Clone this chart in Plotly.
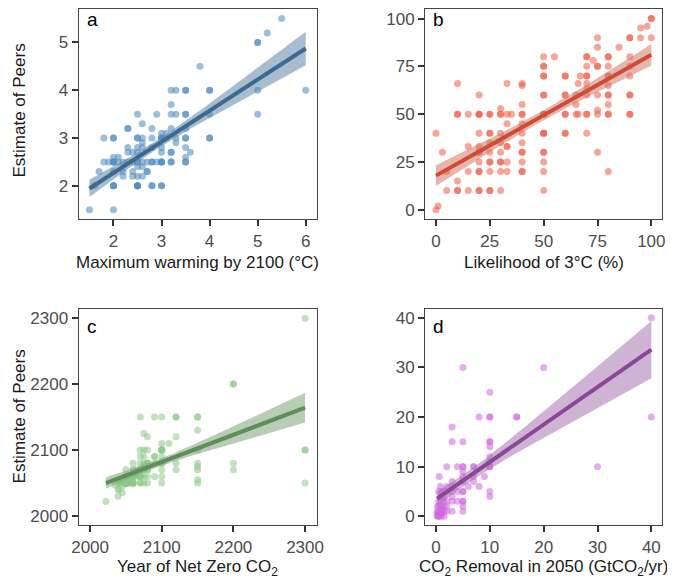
import numpy as np
import plotly.graph_objects as go

# each panel: (respondent's own answer, estimate of peers)
warming_pts = [
    (1.5, 1.5), (2, 1.5), (1.6, 2), (1.7, 2.3),
    (1.8, 2.5), (1.9, 2.5), (2, 2.5), (2, 2.5), (2, 2.5), (2.1, 2.5), (2.2, 2.5), (2.3, 2.5),
    (2.4, 2.5), (2.5, 2.5), (2.5, 2.5), (2.6, 2.5), (2.7, 2.5), (2.8, 2.5), (2.8, 2.5),
    (2.9, 2.5), (3, 2.5), (3.2, 2.5), (3.2, 2.5), (3.5, 2.5), (3.5, 2.5), (3, 2.5), (3, 2.5),
    (2, 2), (2, 2), (2, 2), (2.5, 2), (2.5, 2), (2.5, 2), (2.5, 2), (2.8, 2), (2.8, 2), (3, 2), (3, 2),
    (2, 2.3), (2.2, 2.3), (2.4, 2.3), (2.7, 2.3), (2.7, 2.3), (2, 2.6), (2.1, 2.6),
    (2.5, 2.4), (2.6, 2.4), (2.2, 2.2), (2.4, 2.2), (2.5, 2.2), (2.6, 2.2),
    (2.3, 2.7), (2.4, 2.7), (2.5, 2.7), (3, 2.7), (3.2, 2.7), (3.2, 2.7), (3.6, 2.7), (3.5, 2.6),
    (2.3, 2.8), (2.5, 2.8), (2.6, 2.8), (2.8, 2.8), (3, 2.8), (3.5, 2.8), (3.3, 2.9), (2.6, 2.9),
    (1.8, 3), (2, 3), (2, 3), (2.5, 3), (2.5, 3), (2.6, 3), (2.8, 3), (3, 3), (3, 3), (3, 3),
    (3.1, 3), (3.3, 3), (3.5, 3), (3.5, 3), (4, 3), (4, 3),
    (3, 3.1), (3.1, 3.1), (2.3, 3.2), (2.3, 3.2), (2.8, 3.2), (3.2, 3.2), (3.5, 3.2), (2.6, 3.3),
    (2.5, 3.5), (2.9, 3.5), (3.2, 3.5), (3.3, 3.5), (3.5, 3.5), (3.5, 3.5), (4, 3.5), (5, 3.5), (3.2, 3.7),
    (3.2, 4), (3.3, 4), (3.5, 4), (3.5, 4), (4, 4), (4, 4), (5, 4), (6, 4), (3.8, 4.5),
    (5, 5), (5, 5), (5.2, 5.2), (5.5, 5.5),
]

likelihood_pts = [
    (0, 40), (0, 0), (1, 2), (3, 30), (5, 20), (5, 10),
    (10, 66), (10, 50), (10, 50), (10, 15), (10, 10), (10, 10),
    (15, 50), (15, 33), (15, 20), (15, 10),
    (20, 60), (20, 50), (20, 50), (20, 50), (20, 40), (20, 33), (20, 30), (20, 30), (20, 25),
    (20, 20), (20, 20), (20, 10), (20, 10),
    (25, 50), (25, 50), (25, 40), (25, 40), (25, 35), (25, 30), (25, 25), (25, 25), (25, 20),
    (25, 10), (25, 10),
    (30, 53), (30, 50), (30, 50), (30, 40), (30, 35), (30, 30), (30, 25), (30, 25), (30, 20), (30, 10),
    (33, 66), (33, 50), (35, 50), (33, 45), (33, 33), (33, 33), (33, 25), (33, 20),
    (40, 66), (40, 65), (40, 55), (40, 50), (40, 50), (40, 45), (40, 40), (40, 35), (40, 30),
    (40, 30), (40, 25), (40, 20), (40, 20),
    (50, 80), (55, 80), (50, 75), (50, 75), (50, 70), (50, 70), (50, 60), (50, 60), (50, 50),
    (50, 50), (50, 50), (50, 40), (50, 40), (50, 40), (50, 30), (50, 30), (50, 25), (50, 20), (50, 10),
    (60, 70), (60, 70), (60, 60), (60, 60), (60, 50), (60, 50), (60, 40), (60, 40),
    (65, 55), (65, 60), (65, 50), (66, 50), (66, 66), (67, 70),
    (70, 80), (70, 80), (70, 75), (70, 70), (70, 70), (70, 66), (70, 63), (70, 60), (70, 50),
    (70, 50), (70, 40), (73, 78),
    (75, 75), (75, 75), (75, 90), (75, 85), (75, 60), (75, 52), (75, 50), (75, 30),
    (80, 80), (80, 80), (80, 75), (80, 70), (80, 70), (80, 65), (80, 60), (80, 60), (80, 55),
    (80, 50), (80, 50), (80, 20),
    (85, 85), (90, 90), (90, 90), (90, 80), (90, 75), (90, 70), (90, 60), (90, 60), (90, 50),
    (90, 50), (95, 95), (95, 90), (98, 96), (100, 100), (100, 100), (100, 90),
]

netzero_pts = [
    (2022, 2022), (2035, 2047), (2039, 2030), (2039, 2040), (2045, 2035), (2040, 2055),
    (2040, 2040), (2045, 2045), (2040, 2050), (2040, 2050), (2045, 2050), (2045, 2050),
    (2050, 2050), (2050, 2050), (2050, 2050), (2050, 2050), (2050, 2050), (2050, 2050),
    (2050, 2050), (2050, 2050), (2050, 2050), (2050, 2050), (2050, 2050), (2050, 2050),
    (2050, 2055), (2050, 2060), (2050, 2060), (2050, 2060), (2050, 2070),
    (2055, 2050), (2055, 2050), (2055, 2055), (2055, 2060),
    (2060, 2050), (2060, 2050), (2060, 2050), (2060, 2050), (2060, 2060), (2060, 2060),
    (2060, 2060), (2060, 2060), (2060, 2060), (2060, 2070), (2060, 2070), (2060, 2080),
    (2065, 2060), (2065, 2065), (2065, 2070),
    (2070, 2050), (2070, 2050), (2070, 2060), (2070, 2060), (2070, 2060), (2070, 2070),
    (2070, 2070), (2070, 2070), (2070, 2070), (2070, 2070), (2070, 2080), (2070, 2090), (2070, 2100),
    (2075, 2050), (2075, 2060), (2075, 2070), (2075, 2070), (2075, 2075), (2075, 2075),
    (2075, 2075), (2075, 2075), (2075, 2080), (2075, 2090), (2075, 2100), (2075, 2125),
    (2080, 2050), (2080, 2060), (2080, 2070), (2080, 2070), (2080, 2080), (2080, 2080),
    (2080, 2080), (2080, 2080), (2080, 2100), (2080, 2120),
    (2090, 2060), (2090, 2080), (2090, 2090), (2090, 2090),
    (2100, 2050), (2100, 2060), (2100, 2070), (2100, 2080), (2100, 2080), (2100, 2090),
    (2100, 2100), (2100, 2100), (2100, 2100), (2100, 2100), (2100, 2110), (2100, 2150),
    (2070, 2150), (2090, 2150), (2110, 2110), (2120, 2150), (2120, 2150), (2120, 2120),
    (2120, 2080), (2120, 2070),
    (2150, 2150), (2150, 2150), (2150, 2130), (2150, 2100), (2150, 2080), (2150, 2075),
    (2150, 2070), (2150, 2055), (2150, 2050),
    (2200, 2200), (2200, 2200), (2200, 2080), (2200, 2070),
    (2300, 2300), (2300, 2100), (2300, 2100), (2300, 2050),
]

removal_pts = [
    (0.5, 0), (0.5, 0), (0.5, 0.5), (0.5, 1), (0.5, 2), (0.5, 3), (0.5, 5), (1, 0), (1, 0.5),
    (1, 0.5), (1, 1), (1, 1), (1, 1.5), (1, 2), (1, 2), (1, 3), (1, 4), (1, 5), (0.6, 8),
    (1.5, 0), (1.5, 1), (1.5, 2), (1.5, 3), (1.5, 4), (1.5, 5), (2, 1), (2, 2), (2, 3), (2, 5),
    (2, 6), (2, 10), (0.2, 0), (0.2, 1), (0.3, 2), (0.3, 0.5), (0.8, 6),
    (3, 1), (3, 3), (3, 4), (3, 5), (3, 6), (3, 7), (3, 15), (3, 18), (4, 3), (4, 5), (4, 10),
    (5, 1), (5, 2), (5, 3), (5, 5), (5, 5), (5, 7), (5, 8), (5, 9), (5, 10), (5, 10), (5, 15),
    (5, 30), (5, 3),
    (6, 6), (7, 7), (7, 8), (7, 10), (7, 10), (8, 6), (8, 20), (9, 8),
    (10, 4), (10, 5), (10, 10), (10, 10), (10, 11), (10, 12), (10, 14), (10, 15), (10, 15),
    (10, 20), (10, 20), (10, 25),
    (15, 20), (15, 20), (20, 30), (30, 10), (40, 40), (40, 20),
]

panels = [
    dict(pts=warming_pts, pt="#4C88BC", ln="#3C6990", band="#5E86A8",
         xr=[1.275, 6.225], yr=[1.3, 5.7], xt=[2, 3, 4, 5, 6], yt=[2, 3, 4, 5],
         title="Maximum warming by 2100 (°C)", tag="a"),
    dict(pts=likelihood_pts, pt="#EE5B45", ln="#CD4B37", band="#D27868",
         xr=[-5, 105], yr=[-5, 105], xt=[0, 25, 50, 75, 100], yt=[0, 25, 50, 75, 100],
         title="Likelihood of 3°C (%)", tag="b"),
    dict(pts=netzero_pts, pt="#8DC688", ln="#5F8E5A", band="#7FA47A",
         xr=[1984, 2316], yr=[1986, 2314], xt=[2000, 2100, 2200, 2300], yt=[2000, 2100, 2200, 2300],
         title="Year of Net Zero CO<sub>2</sub>", tag="c"),
    dict(pts=removal_pts, pt="#D068DF", ln="#8A4796", band="#A675B0",
         xr=[-2, 42], yr=[-1.8, 41.8], xt=[0, 10, 20, 30, 40], yt=[0, 10, 20, 30, 40],
         title="CO<sub>2</sub> Removal in 2050 (GtCO<sub>2</sub>/yr)", tag="d"),
]

# the page body adds an 8px margin, so the figure is 8px smaller and shifted
OFF = 8
W, H = 675 - OFF, 578 - OFF


def px(v):
    return (v - OFF) / W


def py(v):
    return 1 - (v - OFF) / H


xdoms = [[px(73), px(316)], [px(427), px(669)]]
ydoms = [[py(219), 1.0], [py(526), py(309)]]

fig = go.Figure()
font = "Liberation Sans, Arial, sans-serif"
annotations = []

for i, p in enumerate(panels):
    k = "" if i == 0 else str(i + 1)
    xa, ya = "x" + k, "y" + k
    arr = np.array(p["pts"], float)
    x, y = arr[:, 0], arr[:, 1]

    # linear fit with 95% confidence band
    n = len(x)
    b1, b0 = np.polyfit(x, y, 1)
    resid = y - (b0 + b1 * x)
    s = np.sqrt(np.sum(resid ** 2) / (n - 2))
    sxx = np.sum((x - x.mean()) ** 2)
    gx = np.linspace(x.min(), x.max(), 80)
    gy = b0 + b1 * gx
    se = s * np.sqrt(1 / n + (gx - x.mean()) ** 2 / sxx)
    lo, hi = gy - 1.97 * se, gy + 1.97 * se

    fig.add_trace(go.Scatter(x=x, y=y, mode="markers", xaxis=xa, yaxis=ya,
                             marker=dict(size=7, color=p["pt"], opacity=0.55, line=dict(width=0)),
                             showlegend=False, hoverinfo="x+y"))
    fig.add_trace(go.Scatter(x=np.concatenate([gx, gx[::-1]]), y=np.concatenate([hi, lo[::-1]]),
                             mode="lines", fill="toself", fillcolor=p["band"], opacity=0.55,
                             line=dict(width=0), xaxis=xa, yaxis=ya, showlegend=False, hoverinfo="skip"))
    fig.add_trace(go.Scatter(x=gx, y=gy, mode="lines", xaxis=xa, yaxis=ya,
                             line=dict(color=p["ln"], width=4), showlegend=False, hoverinfo="skip"))

    col, row = i % 2, i // 2
    axis_common = dict(showgrid=False, zeroline=False, showline=True, mirror=True,
                       linecolor="#444444", linewidth=1.2, ticks="outside", ticklen=6,
                       tickwidth=1.6, tickcolor="#333333",
                       tickfont=dict(family=font, size=17, color="#4D4D4D"))
    fig.layout["xaxis" + k] = dict(domain=xdoms[col], anchor=ya, range=p["xr"],
                                   tickvals=p["xt"], **axis_common)
    fig.layout["yaxis" + k] = dict(domain=ydoms[row], anchor=xa, range=p["yr"],
                                   tickvals=p["yt"], **axis_common)

    xc = (xdoms[col][0] + xdoms[col][1]) / 2
    title_y = [262, 569][row]
    annotations.append(dict(text=p["title"], x=xc, y=py(title_y), xref="paper", yref="paper",
                            xanchor="center", yanchor="middle", showarrow=False,
                            font=dict(family=font, size=17, color="#1A1A1A")))
    tag_top = [6, 314][row]
    annotations.append(dict(text=p["tag"], x=xdoms[col][0] + 6 / W, y=py(tag_top),
                            xref="paper", yref="paper", xanchor="left", yanchor="top", showarrow=False,
                            font=dict(family=font, size=19, color="#000000")))

for row in range(2):
    annotations.append(dict(text="Estimate of Peers", x=px(13), y=[py(110), py(417)][row],
                            xref="paper", yref="paper", xanchor="center", yanchor="middle",
                            textangle=-90, showarrow=False,
                            font=dict(family=font, size=17, color="#1A1A1A")))

fig.update_layout(width=W, height=H, margin=dict(l=0, r=0, t=0, b=0),
                  paper_bgcolor="white", plot_bgcolor="white",
                  annotations=annotations, font=dict(family=font))

fig.write_html("out.html")
